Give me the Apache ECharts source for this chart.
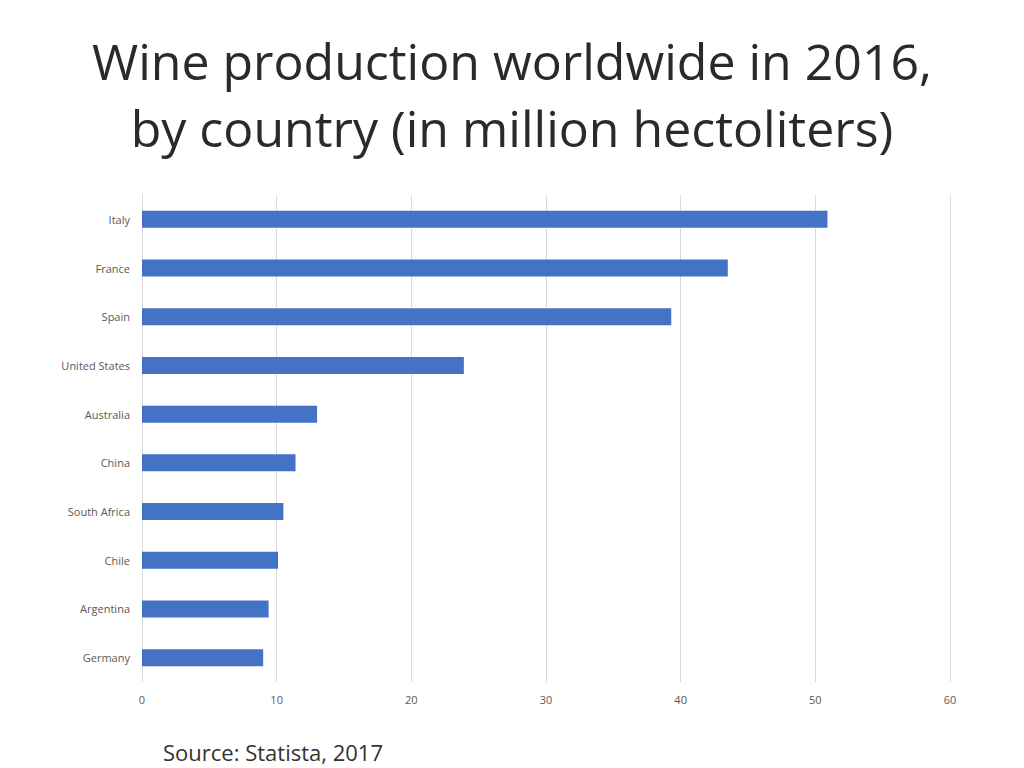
<!DOCTYPE html>
<html>
<head>
<meta charset="utf-8">
<script src="https://cdn.jsdelivr.net/npm/echarts@6/dist/echarts.min.js"></script>
<style>
  html, body { margin: 0; padding: 0; background: #fff; }
  #chart { width: 1024px; height: 768px; }
</style>
</head>
<body>
<div id="chart"></div>
<script>
// countries, top to bottom as drawn
const countries = ['Italy', 'France', 'Spain', 'United States', 'Australia',
  'China', 'South Africa', 'Chile', 'Argentina', 'Germany']
// million hectoliters, 2016
const production = [50.9, 43.5, 39.3, 23.9, 13.0, 11.4, 10.5, 10.1, 9.4, 9.0]
const xTicks = [0, 10, 20, 30, 40, 50, 60]

const chart = echarts.init(document.getElementById('chart'), null, { renderer: 'svg' })

chart.setOption({
  animation: false,
  title: [
    {
      text: 'Wine production worldwide in 2016,\nby country (in million hectoliters)',
      left: 'center',
      top: 22,
      textStyle: {
        fontFamily: 'Open Sans',
        fontWeight: 'normal',
        fontSize: 50,
        lineHeight: 67,
        color: '#2a2a2a'
      }
    },
    {
      text: 'Source: Statista, 2017',
      left: 158,
      top: 736,
      textStyle: {
        fontFamily: 'Open Sans',
        fontWeight: 'normal',
        fontSize: 22,
        color: '#333333'
      }
    }
  ],
  grid: { left: 142, right: 74, top: 195, bottom: 86, containLabel: false },
  xAxis: {
    type: 'value',
    min: xTicks[0],
    max: xTicks[xTicks.length - 1],
    interval: 10,
    axisLine: { show: false },
    axisTick: { show: false },
    splitLine: { lineStyle: { color: '#d9d9d9', width: 1 } },
    axisLabel: { color: '#595959', fontSize: 11, fontFamily: 'Open Sans', margin: 12 }
  },
  yAxis: {
    type: 'category',
    data: countries,
    inverse: true,
    axisLine: { show: true, lineStyle: { color: '#d9d9d9' } },
    axisTick: { show: false },
    axisLabel: { color: '#595959', fontSize: 11, fontFamily: 'Open Sans', margin: 12, padding: [0, 0, 3, 0] }
  },
  series: [
    {
      type: 'bar',
      data: production,
      barWidth: '35%',
      itemStyle: { color: '#4472c4' }
    }
  ]
})
</script>
</body>
</html>
